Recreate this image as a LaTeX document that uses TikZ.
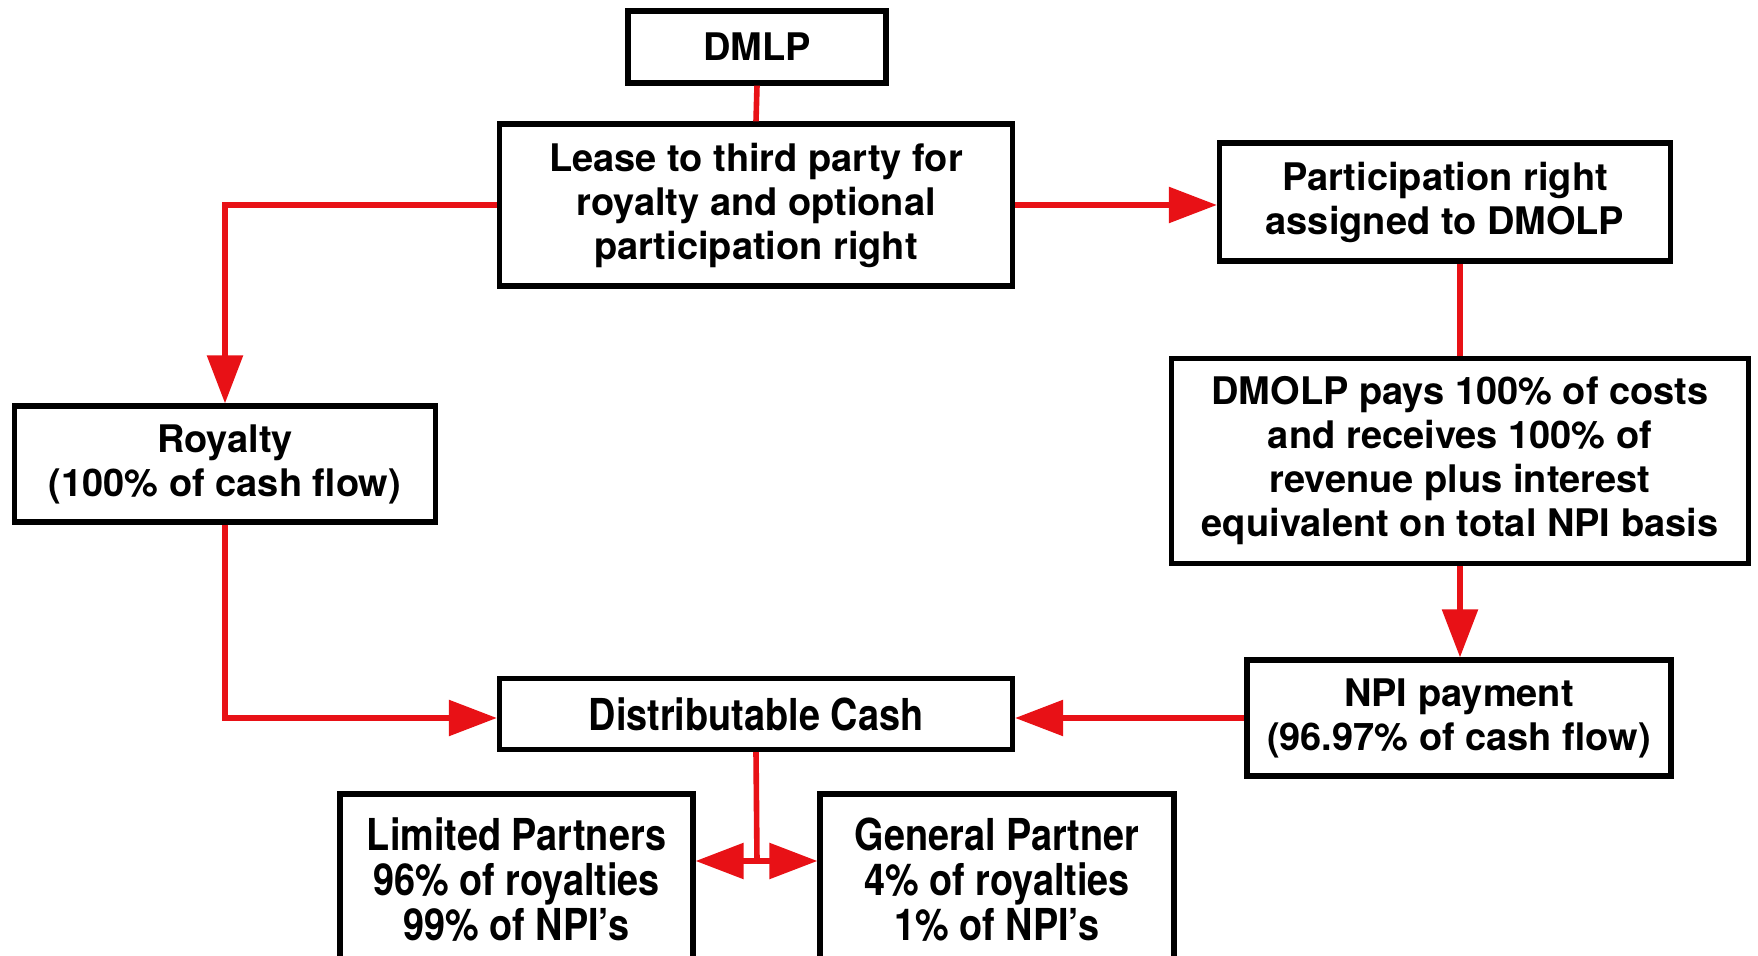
\documentclass[tikz,border=0pt]{standalone}
\usepackage{fontspec}
\setmainfont{TeX Gyre Heros}
\newfontfamily\condfont{TeX Gyre Heros}[FakeStretch=0.86]
\usetikzlibrary{arrows.meta}
\definecolor{flowred}{RGB}{232,17,22}
\tikzset{
  box/.style={draw=black, line width=2.6pt, rectangle, inner sep=0pt, align=center,
    font=\fontsize{19}{22}\selectfont\bfseries},
  cbox/.style={box, font=\condfont\fontsize{22}{22.4}\selectfont\bfseries},
  conn/.style={draw=flowred, line width=2.8pt},
  arr/.style={conn, -{Triangle[length=24pt,width=17.5pt]}}
}
\begin{document}
\begin{tikzpicture}[x=0.5pt,y=-0.5pt]
\useasboundingbox (0,0) rectangle (1758,956);
\node[box, minimum width=129pt, minimum height=36pt] (dmlp) at (757,47) {DMLP};
\node[box, minimum width=256.5pt, minimum height=81pt] (lease) at (756,205) {Lease to third party for\\royalty and optional\\participation right};
\node[box, minimum width=225.5pt, minimum height=59pt] (part) at (1445,202) {Participation right\\assigned to DMOLP};
\node[box, minimum width=210.5pt, minimum height=58pt] (roy) at (225,464) {Royalty\\(100\% of cash flow)};
\node[box, minimum width=288.5pt, minimum height=102.5pt] (dmolp) at (1460,461) {DMOLP pays 100\% of costs\\and receives 100\% of\\revenue plus interest\\equivalent on total NPI basis};
\node[box, minimum width=212pt, minimum height=58pt] (npi) at (1459,718) {NPI payment\\(96.97\% of cash flow)};
\node[cbox, minimum width=256.5pt, minimum height=35.5pt] (dist) at (756,714) {Distributable Cash};
\node[cbox, minimum width=176.5pt, minimum height=85.5pt] (lp) at (516.5,879.5) {Limited Partners\\96\% of royalties\\99\% of NPI’s};
\node[cbox, minimum width=177pt, minimum height=85.5pt] (gp) at (997,879.5) {General Partner\\4\% of royalties\\1\% of NPI’s};
\coordinate (split) at (757,861);
\draw[conn] (dmlp.south) -- (lease.north);
\draw[arr] (lease.west) -| (roy.north);
\draw[arr] (lease.east) -- (lease.east -| part.west);
\draw[conn] (dmolp.north) -- (dmolp.north |- part.south);
\draw[arr] (dmolp.south) -- (dmolp.south |- npi.north);
\draw[arr] (npi.west) -- (npi.west -| dist.east);
\draw[arr] (roy.south) |- (npi.west -| dist.west);
\draw[conn] (dist.south) -- (split);
\draw[arr] (split) -- (split -| lp.east);
\draw[arr] (split) -- (split -| gp.west);
\end{tikzpicture}
\end{document}
